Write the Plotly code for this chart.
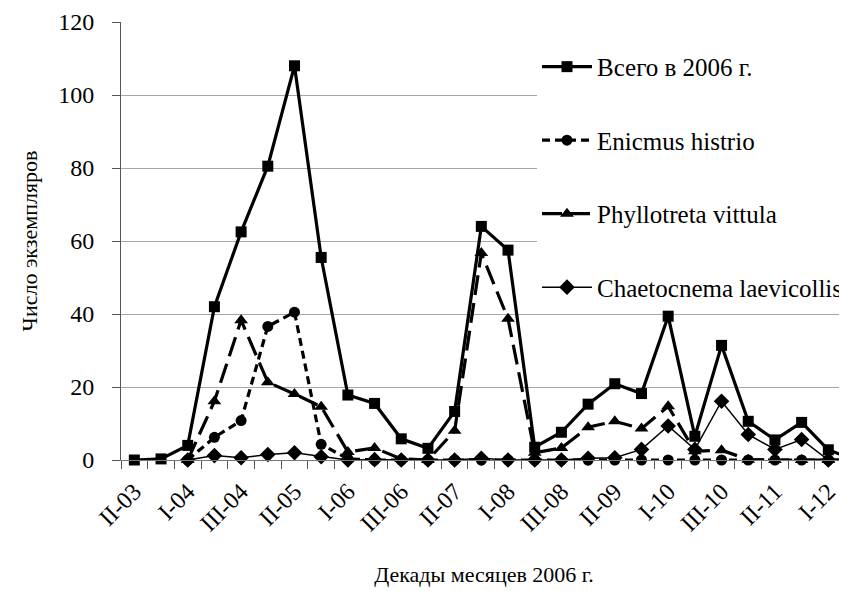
import plotly.graph_objects as go

categories = ["II-03", "III-03", "I-04", "II-04", "III-04", "I-05", "II-05", "III-05",
              "I-06", "II-06", "III-06", "I-07", "II-07", "III-07", "I-08", "II-08",
              "III-08", "I-09", "II-09", "III-09", "I-10", "II-10", "III-10", "I-11",
              "II-11", "III-11", "I-12", "II-12"]

total = [0, 0.3, 4, 42, 62.5, 80.5, 108, 55.5, 17.8, 15.5, 5.8, 3.2, 13.3, 64,
         57.5, 3.5, 7.6, 15.3, 20.9, 18.2, 39.4, 6.5, 31.4, 10.6, 5.5, 10.3, 2.8, 0]
enicmus = [None, None, 0, 6.2, 10.8, 36.6, 40.5, 4.3, 0.3, 0, 0, 0, 0, 0,
           0, 0, 0, 0, 0, 0, 0, 0, 0, 0, 0, 0, 0, 0]
phyllotreta = [None, None, 0, 16.1, 38.3, 21.3, 18.1, 14.6, 2.2, 3.3, 0.3, 0, 8, 56.7,
               38.7, 2, 3.3, 9, 10.6, 8.6, 14.7, 2.4, 2.7, 0.1, 0, 0, 0, 0]
chaetocnema = [None, None, 0, 1.2, 0.6, 1.5, 2.0, 0.9, 0, 0.1, 0, 0, 0, 0.5,
               0, 0, 0, 0.5, 0.6, 2.9, 9.3, 2.9, 16.1, 7, 2.9, 5.6, 0, 0]

series_names = ["Всего в 2006 г.", "Enicmus histrio", "Phyllotreta vittula",
                "Chaetocnema laevicollis"]
tick_text = [c if i % 2 == 0 else "" for i, c in enumerate(categories)]

FONT = "'Times New Roman', 'Liberation Serif', serif"

fig = go.Figure()
specs = [
    (total, dict(color="black", width=3.2), dict(symbol="square", size=11)),
    (enicmus, dict(color="black", width=3.2, dash="8px,5px"), dict(symbol="circle", size=11)),
    (phyllotreta, dict(color="black", width=3.2, dash="20px,8px"), dict(symbol="triangle-up", size=12)),
    (chaetocnema, dict(color="black", width=1.5), dict(symbol="diamond", size=12)),
]
for i, (vals, line, marker) in enumerate(specs):
    fig.add_trace(go.Scatter(
        x=categories, y=vals, name=series_names[i], mode="lines+markers",
        line=line, marker=dict(color="black", **marker),
        legendgroup=f"g{i}", connectgaps=False, cliponaxis=False,
    ))

fig.update_layout(
    width=847, height=591,
    margin=dict(l=113, r=8, t=14, b=138.5, autoexpand=False),
    paper_bgcolor="white", plot_bgcolor="white",
    font=dict(family=FONT, size=22, color="black"),
    showlegend=True,
    legend=dict(x=0.573, xanchor="left", y=0.95, yanchor="top",
                bgcolor="white", borderwidth=0, tracegroupgap=38,
                itemwidth=50, font=dict(family=FONT, size=25, color="black")),
    xaxis=dict(
        type="category", range=[-0.5, 26.7], automargin=False,
        tickmode="array", tickvals=categories, ticktext=tick_text,
        tickson="boundaries", ticks="outside", ticklen=8, tickcolor="#555",
        tickangle=-45, ticklabelstandoff=7,
        showline=True, linecolor="#777", linewidth=1, showgrid=False,
        title=dict(text="Декады месяцев 2006 г.", standoff=31,
                   font=dict(family=FONT, size=22)),
        tickfont=dict(family=FONT, size=24),
    ),
    yaxis=dict(
        range=[0, 120], dtick=20, ticks="outside", ticklen=8, tickcolor="#555",
        showline=True, linecolor="#555", linewidth=1, automargin=False,
        showgrid=True, gridcolor="#a6a6a6", gridwidth=1, zeroline=False,
        ticklabelstandoff=13,
        title=dict(text="Число экземпляров", standoff=14,
                   font=dict(family=FONT, size=22)),
        tickfont=dict(family=FONT, size=24),
    ),
)

fig.write_html("out.html")
